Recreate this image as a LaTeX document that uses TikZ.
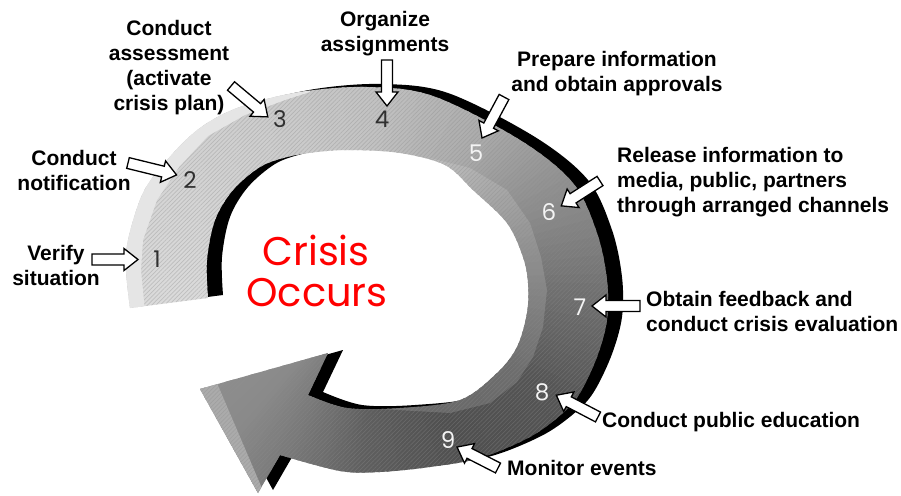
\documentclass[tikz,border=0pt]{standalone}
\usepackage{fontspec}
\setmainfont{Liberation Sans}
\newfontfamily\numfont{Poppins}
\usetikzlibrary{patterns.meta}
\definecolor{crisisred}{RGB}{255,0,0}
\definecolor{numdark}{RGB}{48,48,48}
\definecolor{numlight}{RGB}{244,244,244}
\newcommand\bandpath{plot[smooth, tension=0.55] coordinates {(130,308) (126,270) (128,240) (143,193) (167,160) (200,128) (240,107) (300,92) (367,87) (433,96) (520,140) (573,183) (597,233) (607,280) (607,320) (597,357) (580,393) (563,413) (530,437) (480,458) (430,467) (380,472) (340,471) (280,455)} -- (258,493) -- (200,389) -- (328,353) -- plot[smooth, tension=0.55] coordinates {(308,395) (347,408) (400,408) (460,400) (497,373) (517,347) (527,313) (528,283) (523,257) (507,223) (473,190) (445,165) (400,153) (350,150) (317,152) (287,157) (260,167) (233,190) (215,220) (207,260) (208,298)} -- cycle}
\tikzset{
  pics/blockarrow/.style={code={
    \draw[fill=white, line width=1.3pt, line join=miter]
      (0,-5.5) -- ({#1-14},-5.5) -- ({#1-14},-11) -- (#1,0) -- ({#1-14},11) -- ({#1-14},5.5) -- (0,5.5) -- cycle;
  }},
  lbl/.style={font=\fontsize{21}{25}\selectfont\bfseries, inner sep=0pt, text=black},
  num/.style={font=\numfont\fontsize{23}{23}\selectfont, inner sep=0pt, anchor=base},
  crisis/.style={font=\numfont\fontsize{40}{40}\selectfont, inner sep=0pt, anchor=base, text=crisisred}
}
\begin{document}
\begin{tikzpicture}[x=1pt,y=-1pt]
\useasboundingbox (0,0) rectangle (901,495);
\fill[white] (0,0) rectangle (901,495);
\coordinate (C) at (370,280);
% shadow
\fill[black, xshift=15pt, yshift=3pt] \bandpath;
% band
\begin{scope}
  \clip \bandpath;
  \foreach \sa/\sb/\pa/\pb in {0/36/14/17, 36/68/17/20, 68/101/20/24, 101/137/24/33, 137/166/33/45, 166/194/45/57, 194/220/57/67, 220/250/67/69, 250/280/69/63, 280/300/63/54, 300/320/54/46, 320/357/46/42}{
    \foreach \k in {0,...,11}{
      \pgfmathsetmacro\ta{188-(\sa+(\sb-\sa)*\k/12)+0.5}
      \pgfmathsetmacro\tb{188-(\sa+(\sb-\sa)*(\k+1)/12)-0.5}
      \pgfmathsetmacro\p{\pa+(\pb-\pa)*(\k+0.5)/12}
      \fill[black!\p] (C) -- ([shift={(\ta:700pt)}]C) -- ([shift={(\tb:700pt)}]C) -- cycle;
    }
  }
  % inner bevel on the right
  \fill[white, opacity=0.15] (430,158) -- (470,168) -- (507,190) -- (530,223) -- (541,257) -- (547,290) -- (543,327) -- (533,357) -- (517,382) -- (490,403) -- (450,413) -- (380,409)
    -- (400,408) -- (460,400) -- (497,373) -- (517,347) -- (527,313) -- (528,283) -- (523,257) -- (507,223) -- (473,190) -- (445,165) -- cycle;
  % arrow head tip bevel
  \fill[black!33] (185,380) -- (217,383) -- (264,493) -- (250,505) -- cycle;
  % hatch texture
  \fill[pattern={Lines[angle=45,distance=3pt,line width=0.7pt]}, pattern color=black!45, opacity=0.35] (0,0) rectangle (901,495);
  % outer light bevel on the left
  \fill[black!10] (110,320) -- (105,240) -- (125,180) -- (160,140) -- (200,110) -- (250,90) -- (310,85) -- (310,92) -- (285,100) -- (245,115) -- (208,136) -- (179,167) -- (157,200) -- (143,240) -- (141,270) -- (145,312) -- cycle;
\end{scope}
% centre text
\node[crisis] (crisis) at (316,265) {Crisis};
\node[crisis] (occurs) at (317,306) {Occurs};
% step numbers
\node[num, text=numdark] (n1) at (157,267) {1};
\node[num, text=numdark] (n2) at (190,188) {2};
\node[num, text=numdark] (n3) at (280,127) {3};
\node[num, text=numdark] (n4) at (382,127) {4};
\node[num, text=numlight] (n5) at (476,161) {5};
\node[num, text=numlight] (n6) at (549,220) {6};
\node[num, text=numlight] (n7) at (580,315) {7};
\node[num, text=numlight] (n8) at (542,400) {8};
\node[num, text=numlight] (n9) at (448,448) {9};
% labels
\node[lbl, align=center, anchor=north] (l1) at (56,244.7) {Verify\\situation};
\node[lbl, align=center, anchor=north] (l2) at (74,149.7) {Conduct\\notification};
\node[lbl, align=center, anchor=north] (l3) at (169,19.7) {Conduct\\assessment\\(activate\\crisis plan)};
\node[lbl, align=center, anchor=north] (l4) at (385,10.7) {Organize\\assignments};
\node[lbl, align=center, anchor=north] (l5) at (617,50.7) {Prepare information\\and obtain approvals};
\node[lbl, align=left, anchor=north west] (l6) at (617,146.7) {Release information to\\media, public, partners\\through arranged channels};
\node[lbl, align=left, anchor=north west] (l7) at (646,290.7) {Obtain feedback and\\conduct crisis evaluation};
\node[lbl, anchor=base west] (l8) at (602,427) {Conduct public education};
\node[lbl, anchor=base west] (l9) at (507,475) {Monitor events};
% pointer arrows
\pic[rotate=0] at (92,259.5) {blockarrow=46};
\pic[rotate=-13.8] at (128,163) {blockarrow=50};
\pic[rotate=-40] at (231,86) {blockarrow=48};
\pic[rotate=-90] at (387,60) {blockarrow=46};
\pic[rotate=-118.2] at (504,97) {blockarrow=46.5};
\pic[rotate=-147.3] at (600,181) {blockarrow=46};
\pic[rotate=180] at (640,306) {blockarrow=48};
\pic[rotate=152.4] at (598,417) {blockarrow=47};
\pic[rotate=152.9] at (498,468) {blockarrow=46};
\end{tikzpicture}
\end{document}
